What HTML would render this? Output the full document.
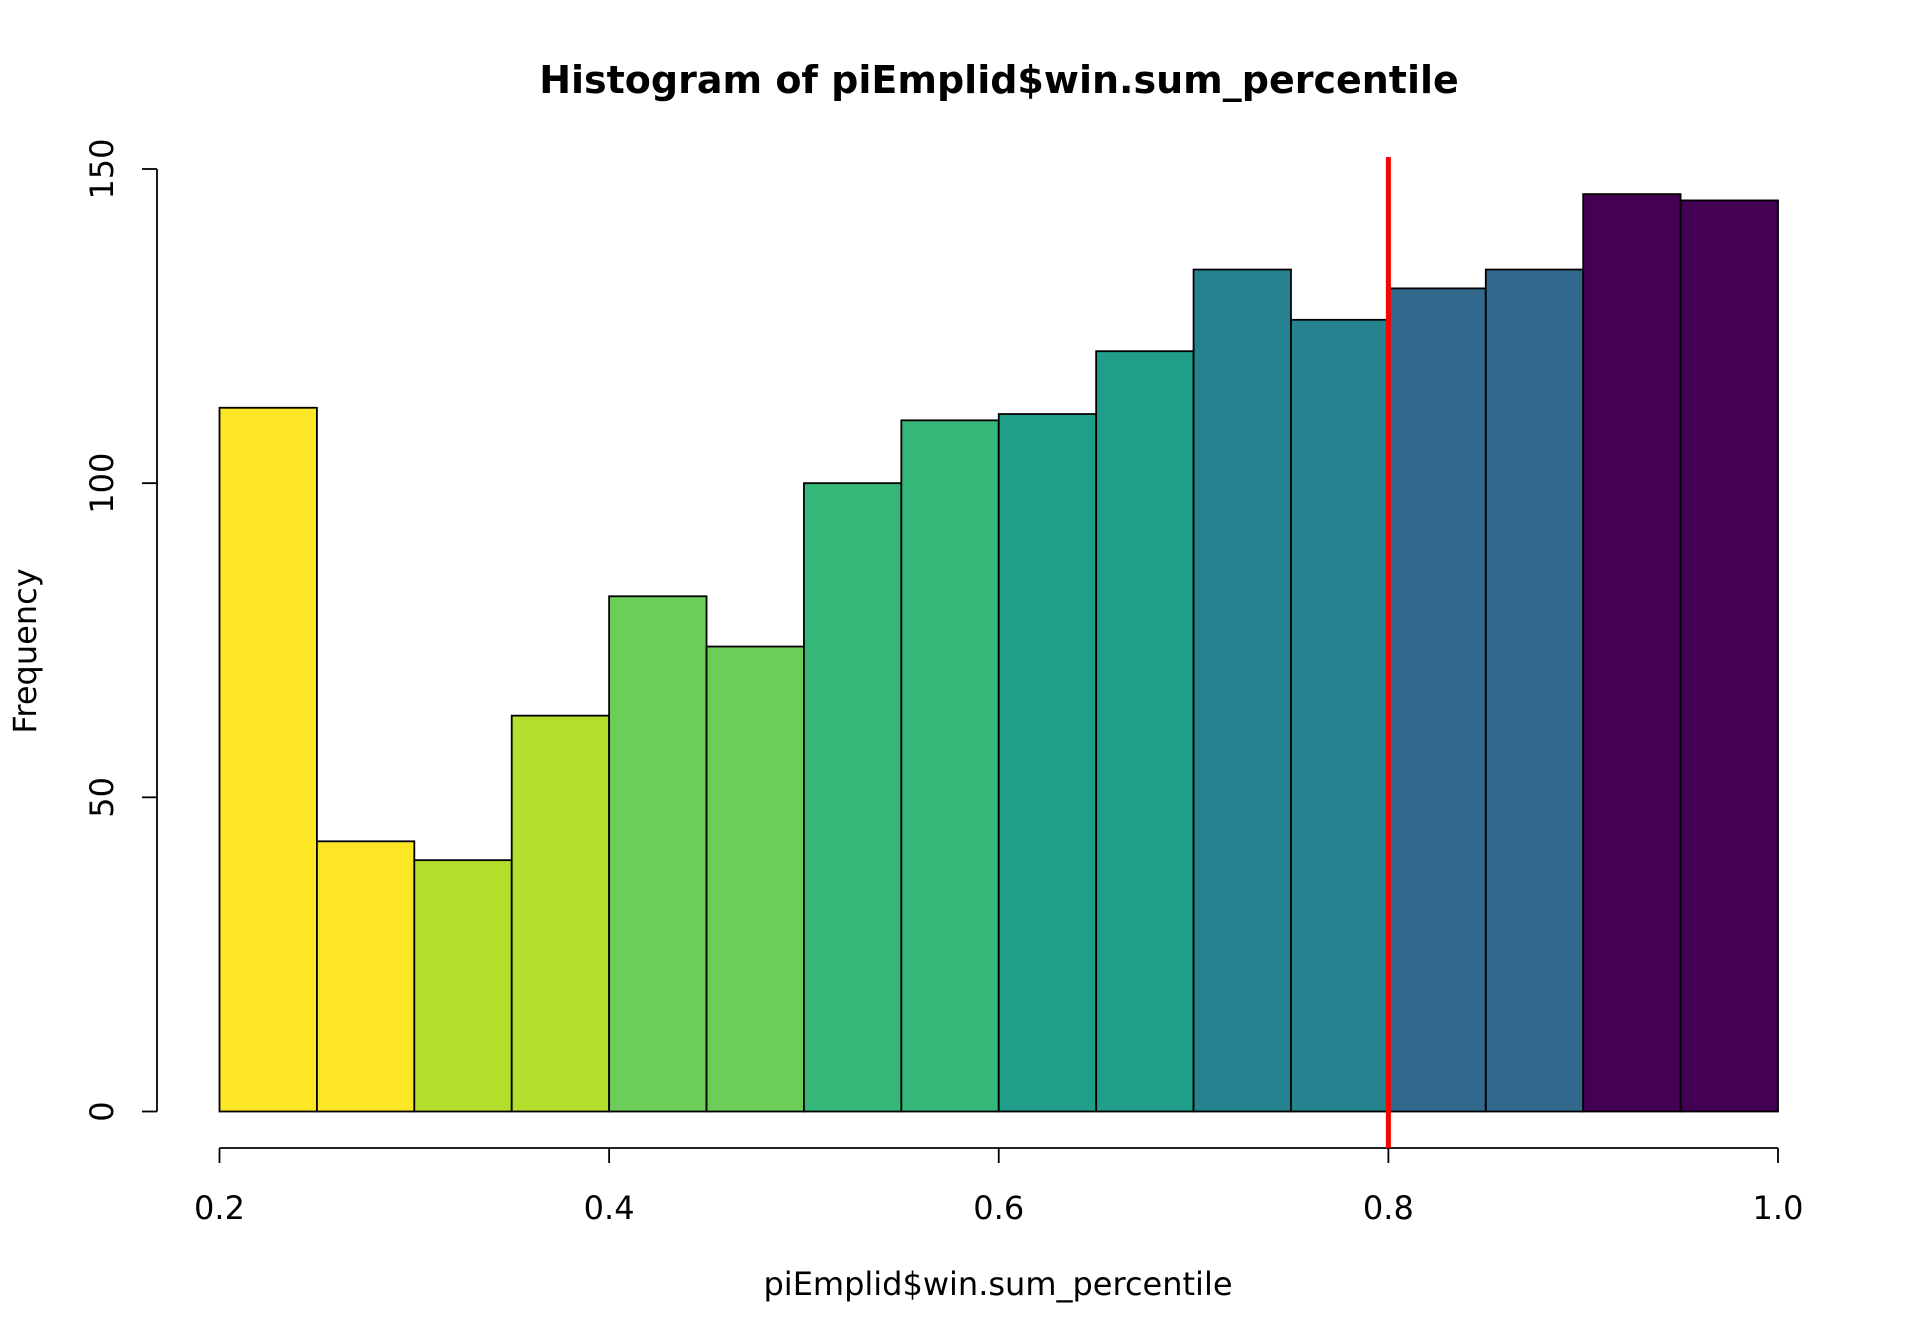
<!DOCTYPE html>
<html><head><meta charset="utf-8"><style>
html,body{margin:0;padding:0;background:#fff;}
svg{display:block;font-family:"DejaVu Sans","Liberation Sans",sans-serif;}
</style></head><body>
<svg id="chart" width="1920" height="1344" viewBox="0 0 1920 1344" xmlns="http://www.w3.org/2000/svg">
<text x="999" y="93" text-anchor="middle" font-size="38" font-weight="bold">Histogram of piEmplid$win.sum_percentile</text>
<text x="998" y="1295" text-anchor="middle" font-size="32">piEmplid$win.sum_percentile</text>
<text x="36" y="651" text-anchor="middle" font-size="32" transform="rotate(-90 36 651)">Frequency</text>
<g id="bars"></g>
<g id="xaxis"></g>
<g id="yaxis"></g>
<g id="refline"></g>
</svg>
<script>
const binStarts=[0.2,0.25,0.3,0.35,0.4,0.45,0.5,0.55,0.6,0.65,0.7,0.75,0.8,0.85,0.9,0.95];
const counts=[112,43,40,63,82,74,100,110,111,121,134,126,131,134,146,145];
const binColors=["#FDE725","#FDE725","#B4DE2C","#B4DE2C","#6DCD59","#6DCD59","#35B779","#35B779","#1F9E89","#1F9E89","#26828E","#26828E","#31688E","#31688E","#440154","#440154"];
const binWidth=0.05;
const xTicks=[0.2,0.4,0.6,0.8,1.0];
const xTickLabels=["0.2","0.4","0.6","0.8","1.0"];
const yTicks=[0,50,100,150];
const yTickLabels=["0","50","100","150"];
const refValue=0.8;
const NS="http://www.w3.org/2000/svg";
function X(v){return 219.5+(v-0.2)/0.8*(1778-219.5);}
function Y(v){return 1111.5-v/150*(1111.5-169);}
function mk(t,a,p){const e=document.createElementNS(NS,t);for(const k in a)e.setAttribute(k,a[k]);p.appendChild(e);return e;}
const bars=document.getElementById('bars');
binStarts.forEach((s,i)=>{
 const r=mk('rect',{x:X(s),y:Y(counts[i]),width:X(s+binWidth)-X(s),height:Y(0)-Y(counts[i]),fill:binColors[i],stroke:'#000','stroke-width':1.8},bars);
 
 
});
const xa=document.getElementById('xaxis');
mk('line',{x1:X(xTicks[0]),x2:X(xTicks[xTicks.length-1]),y1:1148,y2:1148,stroke:'#000','stroke-width':1.8},xa);
xTicks.forEach((t,i)=>{
 mk('line',{x1:X(t),x2:X(t),y1:1148,y2:1163,stroke:'#000','stroke-width':1.8},xa);
 const tx=mk('text',{x:X(t),y:1219,'text-anchor':'middle','font-size':32},xa);
 tx.textContent=xTickLabels[i];
 
 
});
const ya=document.getElementById('yaxis');
mk('line',{x1:157,x2:157,y1:Y(yTicks[0]),y2:Y(yTicks[yTicks.length-1]),stroke:'#000','stroke-width':1.8},ya);
yTicks.forEach((t,i)=>{
 mk('line',{x1:142,x2:157,y1:Y(t),y2:Y(t),stroke:'#000','stroke-width':1.8},ya);
 const tx=mk('text',{x:113,y:Y(t),'text-anchor':'middle','font-size':32,transform:'rotate(-90 113 '+Y(t)+')'},ya);
 tx.textContent=yTickLabels[i];
 
 
});
const rl=document.getElementById('refline');
mk('line',{x1:X(refValue),x2:X(refValue),y1:157,y2:1148,stroke:'#FF0000','stroke-width':5},rl);
</script>
</body></html>
